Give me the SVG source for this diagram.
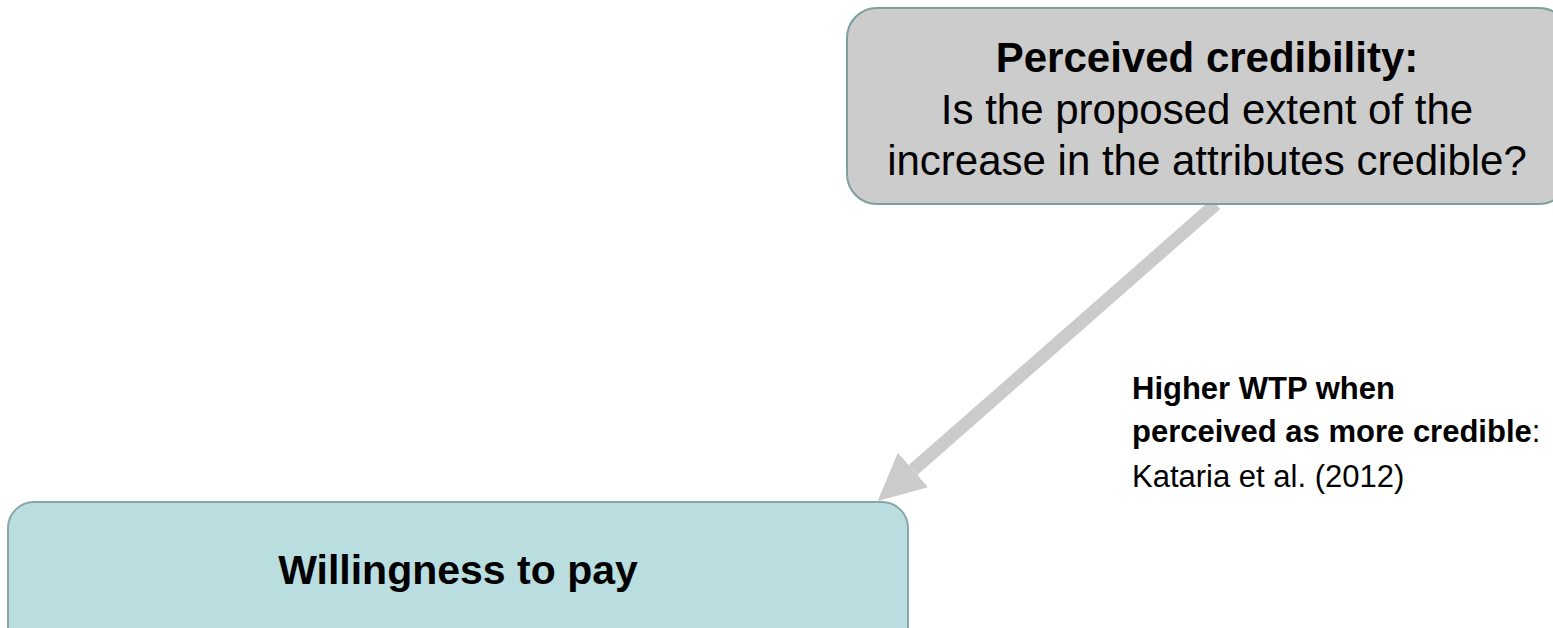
<svg xmlns="http://www.w3.org/2000/svg" width="1553" height="628" viewBox="0 0 1553 628">
<defs>
<style>
.t{font-family:"Liberation Sans",Arial,sans-serif;fill:#000}
.b{font-weight:bold}
</style>
<marker id="ah" viewBox="0 0 47 46" refX="0" refY="23" markerWidth="47" markerHeight="46" markerUnits="userSpaceOnUse" orient="auto">
<path d="M0,0 L47,23 L0,46 z" fill="#cbcbcb"/>
</marker>
</defs>
<rect width="1553" height="628" fill="#ffffff"/>
<g id="connectors">
<line x1="1216" y1="204" x2="913" y2="470" stroke="#cbcbcb" stroke-width="13" marker-end="url(#ah)"/>
</g>
<g id="node-credibility">
<rect x="847" y="8" width="722" height="196" rx="30" ry="30" fill="#cccccc" stroke="#7f9e9e" stroke-width="2"/>
<text class="t b" x="1207" y="72" font-size="42" text-anchor="middle">Perceived credibility:</text>
<text class="t" x="1207" y="124" font-size="42" text-anchor="middle">Is the proposed extent of the</text>
<text class="t" x="1207" y="175" font-size="42" text-anchor="middle">increase in the attributes credible?</text>
</g>
<g id="node-wtp">
<rect x="8" y="502" width="900" height="160" rx="26" ry="26" fill="#badde0" stroke="#88a6a8" stroke-width="2"/>
<text class="t b" x="458" y="584" font-size="41" text-anchor="middle">Willingness to pay</text>
</g>
<g id="label">
<text class="t" x="1132" y="399" font-size="31"><tspan class="b">Higher WTP when</tspan></text>
<text class="t" x="1132" y="442" font-size="31"><tspan class="b">perceived as more credible</tspan>:</text>
<text class="t" x="1132" y="487" font-size="31">Kataria et al. (2012)</text>
</g>
</svg>
